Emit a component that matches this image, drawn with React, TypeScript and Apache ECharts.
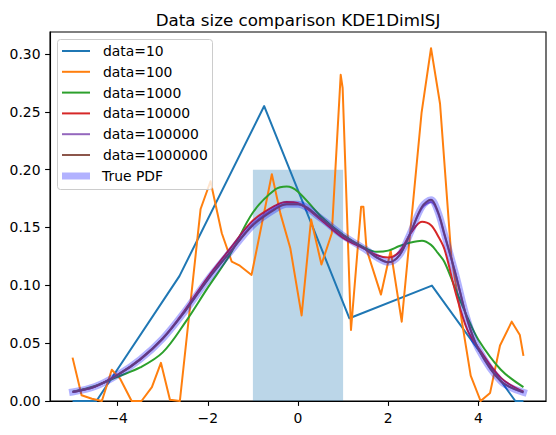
import React, { useEffect, useRef } from "react";
import * as echarts from "echarts";

// Axis ticks
const xTicks = [-4, -2, 0, 2, 4];
const yTicks = [0, 0.05, 0.1, 0.15, 0.2, 0.25, 0.3];

// Uniform block of the true density: [x0, x1, height]
const uniformBlock = [[-1, 1, 0.2]];

// KDE estimates, [x, density]
const data10: number[][] = [
  [-5, 0], [-4.47, 0], [-2.63, 0.108], [-0.75, 0.255], [1.14, 0.0715],
  [2.97, 0.0998], [4.82, 0], [5, 0],
];

const data100: number[][] = [
  [-5.0, 0.0375], [-4.8, 0.005], [-4.57, 0.002], [-4.35, 0.0], [-4.13, 0.027],
  [-3.95, 0.0196], [-3.69, 0.0], [-3.47, 0.0], [-3.24, 0.012], [-3.04, 0.033],
  [-2.84, 0.001], [-2.62, 0.0], [-2.16, 0.166], [-1.94, 0.19], [-1.69, 0.145],
  [-1.47, 0.1205], [-1.29, 0.117], [-1.03, 0.109], [-0.58, 0.196], [-0.39, 0.162],
  [-0.17, 0.132], [0.08, 0.074], [0.29, 0.157], [0.52, 0.118], [0.75, 0.145],
  [0.947, 0.282], [0.99, 0.2706], [1.175, 0.0614], [1.4, 0.168], [1.45, 0.168],
  [1.52, 0.131], [1.84, 0.092], [2.055, 0.13], [2.3, 0.0686], [2.74, 0.249],
  [2.95, 0.305], [3.15, 0.257], [3.4, 0.125], [3.83, 0.022], [4.05, 0.0],
  [4.26, 0.007], [4.48, 0.048], [4.74, 0.0686], [4.92, 0.057], [5.0, 0.039],
];

// Smooth estimates share one x grid
const smoothX = [
  -5, -4.5, -4, -3.5, -3, -2.5, -2, -1.5, -1, -0.5, -0.25, 0, 0.5, 1, 1.5, 1.75,
  2, 2.25, 2.5, 2.75, 2.95, 3.1, 3.25, 3.5, 3.75, 4, 4.5, 5,
];

const data1000Y = [
  0.008, 0.013, 0.021, 0.029, 0.042, 0.068, 0.098, 0.127, 0.163, 0.183, 0.1855,
  0.181, 0.16, 0.1436, 0.132, 0.129, 0.13, 0.134, 0.137, 0.1385, 0.135, 0.128,
  0.12, 0.096, 0.073, 0.053, 0.027, 0.012,
];
const data10000Y = [
  0.0078, 0.0125, 0.0225, 0.036, 0.054, 0.079, 0.107, 0.132, 0.156, 0.169, 0.172,
  0.171, 0.157, 0.141, 0.131, 0.126, 0.124, 0.129, 0.145, 0.155, 0.152, 0.143,
  0.131, 0.093, 0.062, 0.046, 0.02, 0.008,
];
const data100000Y = [
  0.0078, 0.0125, 0.0225, 0.036, 0.054, 0.078, 0.105, 0.129, 0.153, 0.167, 0.17,
  0.17, 0.158, 0.143, 0.131, 0.124, 0.12, 0.126, 0.146, 0.167, 0.172, 0.163,
  0.143, 0.109, 0.071, 0.045, 0.017, 0.0074,
];
const data1000000Y = [
  0.0078, 0.0125, 0.0225, 0.036, 0.054, 0.078, 0.105, 0.129, 0.152, 0.166, 0.17,
  0.17, 0.158, 0.143, 0.131, 0.124, 0.12, 0.126, 0.146, 0.168, 0.174, 0.164,
  0.144, 0.109, 0.071, 0.045, 0.017, 0.0075,
];
const truePdfY = [
  0.0078, 0.0125, 0.0225, 0.036, 0.054, 0.078, 0.105, 0.129, 0.152, 0.166, 0.17,
  0.17, 0.158, 0.143, 0.131, 0.124, 0.12, 0.126, 0.146, 0.168, 0.174, 0.164,
  0.144, 0.109, 0.071, 0.045, 0.017, 0.0075,
];

const FONT = "DejaVu Sans";
const pair = (ys: number[]) => smoothX.map((x, i) => [x, ys[i]]);

const minus = (v: number) => (v < 0 ? "\u2212" + Math.abs(v) : String(v));

export default function App() {
  const ref = useRef<HTMLDivElement>(null);

  useEffect(() => {
    if (!ref.current) return;
    const chart = echarts.init(ref.current, null, { renderer: "svg" });

    const lineSeries = (name: string, color: string, data: number[][], smooth: boolean, width = 2, z = 2) => ({
      name,
      type: "line",
      data,
      color,
      smooth: smooth ? 0.35 : false,
      symbol: "none",
      showSymbol: false,
      clip: true,
      z,
      lineStyle: { color, width, cap: width > 3 ? "square" : "butt", join: "round" },
      emphasis: { disabled: true },
    });

    chart.setOption({
      animation: false,
      title: {
        text: "Data size comparison KDE1DimISJ",
        left: 293,
        top: 6,
        textAlign: "center",
        textStyle: { fontFamily: FONT, fontSize: 16.7, fontWeight: "normal", color: "#000" },
      },
      grid: {
        left: 50,
        top: 32,
        right: 10,
        bottom: 34,
        show: true,
        borderColor: "#000",
        borderWidth: 1.1,
        backgroundColor: "transparent",
      },
      xAxis: {
        type: "value",
        min: -5.5,
        max: 5.5,
        splitLine: { show: false },
        axisLine: { show: true, onZero: false, lineStyle: { color: "#000", width: 1.1 } },
        axisTick: { show: true, length: 4.9, customValues: xTicks, lineStyle: { color: "#000", width: 1.1 } },
        axisLabel: {
          customValues: xTicks,
          margin: 10,
          fontFamily: FONT,
          fontSize: 13.9,
          color: "#000",
          formatter: (v: number) => minus(v),
        },
      },
      yAxis: {
        type: "value",
        min: 0,
        max: 0.319,
        splitLine: { show: false },
        axisLine: { show: true, onZero: false, lineStyle: { color: "#000", width: 1.1 } },
        axisTick: { show: true, length: 4.9, customValues: yTicks, lineStyle: { color: "#000", width: 1.1 } },
        axisLabel: {
          customValues: yTicks,
          margin: 9.5,
          fontFamily: FONT,
          fontSize: 13.9,
          color: "#000",
          formatter: (v: number) => v.toFixed(2),
        },
      },
      legend: [
        {
          data: ["data=10", "data=100", "data=1000", "data=10000", "data=100000", "data=1000000"],
          orient: "vertical",
          left: 62,
          top: 44,
          padding: 0,
          itemGap: 6.8,
          itemWidth: 28,
          itemHeight: 2,
          icon: "rect",
          itemStyle: { borderWidth: 0 },
          selectedMode: false,
          z: 6,
          textStyle: { fontFamily: FONT, fontSize: 13.9, color: "#000", lineHeight: 14, padding: [0, 0, 0, 8] },
        },
        {
          data: ["True PDF"],
          orient: "vertical",
          left: 62,
          top: 169,
          padding: 0,
          itemWidth: 28,
          itemHeight: 7,
          icon: "rect",
          itemStyle: { borderWidth: 0 },
          selectedMode: false,
          z: 6,
          textStyle: { fontFamily: FONT, fontSize: 13.9, color: "#000", lineHeight: 14, padding: [0, 0, 0, 7] },
        },
      ],
      graphic: [
        {
          type: "rect",
          z: 5,
          shape: { x: 57.5, y: 39.5, width: 155, height: 150, r: 3 },
          style: { fill: "rgba(255,255,255,0.8)", stroke: "#cccccc", lineWidth: 1 },
        },
      ],
      series: [
        {
          type: "custom",
          name: "uniform",
          data: uniformBlock,
          encode: { x: [0, 1], y: 2 },
          z: 1,
          clip: true,
          renderItem: (_params: any, api: any) => {
            const p0 = api.coord([api.value(0), api.value(2)]);
            const p1 = api.coord([api.value(1), 0]);
            return {
              type: "rect",
              shape: { x: p0[0], y: p0[1], width: p1[0] - p0[0], height: p1[1] - p0[1] },
              style: { fill: "rgba(31,119,180,0.3)" },
            };
          },
        },
        lineSeries("data=10", "#1f77b4", data10, false),
        lineSeries("data=100", "#ff7f0e", data100, false),
        lineSeries("data=1000", "#2ca02c", pair(data1000Y), true),
        lineSeries("data=10000", "#d62728", pair(data10000Y), true),
        lineSeries("data=100000", "#9467bd", pair(data100000Y), true),
        lineSeries("data=1000000", "#8c564b", pair(data1000000Y), true),
        lineSeries("True PDF", "rgba(0,0,255,0.3)", pair(truePdfY), true, 7, 3),
      ],
    });

    return () => chart.dispose();
  }, []);

  return (
    <div
      ref={ref}
      style={{ position: "fixed", left: 0, top: 0, width: 556, height: 435, background: "#fff" }}
    />
  );
}
